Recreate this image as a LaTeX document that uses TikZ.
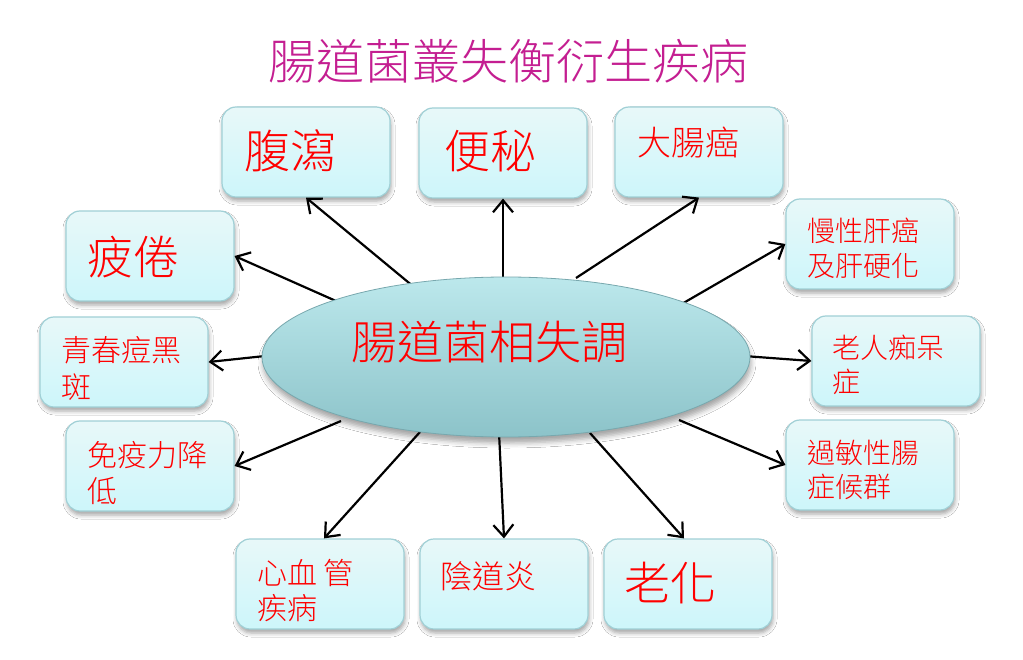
\documentclass[tikz,border=0pt]{standalone}
\usepackage{fontspec}
\setmainfont{Noto Sans CJK TC}[UprightFont={* Light}]
\usetikzlibrary{arrows.meta,shadows.blur,shapes.geometric,calc}
\definecolor{boxtop}{RGB}{232,248,249}
\definecolor{boxbot}{RGB}{205,246,250}
\definecolor{boxline}{RGB}{160,208,214}
\definecolor{elltop}{RGB}{188,232,236}
\definecolor{ellbot}{RGB}{140,195,201}
\definecolor{ellline}{RGB}{120,168,174}
\definecolor{titlecol}{RGB}{196,30,145}
\newcommand{\fsz}[2]{\fontsize{#1}{#2}\selectfont}
\tikzset{
  disbox/.style={draw=boxline, line width=1.2pt, rounded corners=14pt,
    top color=boxtop, bottom color=boxbot,
    minimum width=168pt, minimum height=90pt, inner sep=0pt,
    blur shadow={shadow xshift=1pt, shadow yshift=-4pt, shadow blur radius=4pt, shadow opacity=35}},
  lbl/.style={text=red, anchor=west, inner sep=0pt, align=left},
  arr/.style={line width=2.2pt, -{Straight Barb[length=12pt,width=20pt]}},
  ell/.style={ellipse, draw=ellline, line width=0.8pt, top color=elltop, bottom color=ellbot,
    minimum width=488pt, minimum height=160pt, inner sep=0pt,
    blur shadow={shadow xshift=1pt, shadow yshift=-6pt, shadow blur radius=5pt, shadow opacity=35}},
}
\begin{document}
\begin{tikzpicture}[x=1pt,y=-1pt]
\fill[white] (0,0) rectangle (1023,660);
\useasboundingbox (0,0) rectangle (1023,660);

% title
\node[text=titlecol, font={\fsz{48}{52}}, inner sep=0pt] (title) at (508,61) {腸道菌叢失衡衍生疾病};

% boxes
\node[disbox] (B1) at (306,152) {};
\node[disbox] (B2) at (503,153) {};
\node[disbox] (B3) at (699,152) {};
\node[disbox] (B4) at (150,256) {};
\node[disbox] (B5) at (870,244) {};
\node[disbox] (B6) at (124,362) {};
\node[disbox] (B7) at (896,361) {};
\node[disbox] (B8) at (150,466) {};
\node[disbox] (B9) at (870,465) {};
\node[disbox] (B10) at (320,584) {};
\node[disbox] (B11) at (504,584) {};
\node[disbox] (B12) at (688,584) {};

% labels
\node[lbl, font={\fsz{46}{50}}] (T1) at (244,151) {腹瀉};
\node[lbl, font={\fsz{46}{50}}] (T2) at (444,151) {便秘};
\node[lbl, font={\fsz{34}{38}}] (T3) at (637,143) {大腸癌};
\node[lbl, font={\fsz{46}{50}}] (T4) at (87,257) {疲倦};
\node[lbl, font={\fsz{28}{35}}] (T5) at (807,248.5) {慢性肝癌\\及肝硬化};
\node[lbl, font={\fsz{30}{37}}] (T6) at (61,368) {青春痘黑\\斑};
\node[lbl, font={\fsz{28}{34}}] (T7) at (832,365) {老人痴呆\\症};
\node[lbl, font={\fsz{30}{36}}] (T8) at (87,473) {免疫力降\\低};
\node[lbl, font={\fsz{28}{34}}] (T9) at (807,470) {過敏性腸\\症候群};
\node[lbl, font={\fsz{30}{35}}] (T10) at (257,590.5) {心血 管\\疾病};
\node[lbl, font={\fsz{32}{36}}] (T11) at (440,576) {陰道炎};
\node[lbl, font={\fsz{46}{50}}] (T12) at (624,583) {老化};

% arrow start points (hidden behind the ellipse edge)
\coordinate (s1) at (420,292);
\coordinate (s2) at (503,282);
\coordinate (s3) at (576,278);
\coordinate (s4) at (336,301);
\coordinate (s5) at (680,305);
\coordinate (s6) at (744,356);
\coordinate (s7) at (265,356);
\coordinate (s8) at (341,421);
\coordinate (s9) at (679,420);
\coordinate (s10) at (420,432);
\coordinate (s11) at (499,432);
\coordinate (s12) at (590,433);

% arrows (drawn before the ellipse so that it covers their start)
\draw[arr] (s1) -- (B1.south);
\draw[arr] (s2) -- (B2.south);
\draw[arr] (s3) -- (B3.south);
\draw[arr] (s4) -- (B4.east);
\draw[arr] (s5) -- (B5.west);
\draw[arr] (s6) -- (B7.west);
\draw[arr] (s7) -- (B6.east);
\draw[arr] (s8) -- (B8.east);
\draw[arr] (s9) -- (B9.west);
\draw[arr] (s10) -- (B10.85);
\draw[arr] (s11) -- (B11.north);
\draw[arr] (s12) -- (B12.95);

% central ellipse
\node[ell] (C) at (506,357) {};
\node[text=red, font={\fsz{46}{50}}, inner sep=0pt] (CT) at (489,342) {腸道菌相失調};
\end{tikzpicture}
\end{document}
